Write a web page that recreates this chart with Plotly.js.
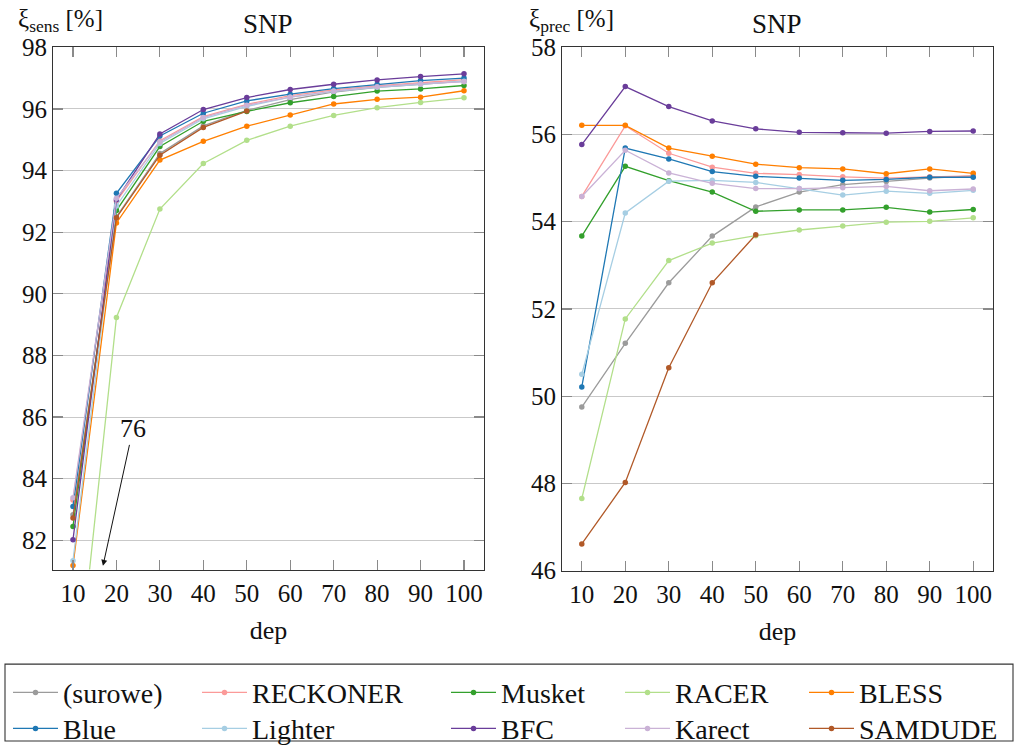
<!DOCTYPE html>
<html>
<head>
<meta charset="utf-8">
<script src="https://cdn.plot.ly/plotly-3.0.1.min.js"></script>
<style>
html,body{margin:0;padding:0;background:#fff;width:1016px;height:754px;overflow:hidden;}
#chart{width:1016px;height:754px;overflow:hidden;}
#chart svg text{font-family:'Liberation Serif', serif !important;}
</style>
</head>
<body>
<div id="chart"></div>
<script>
// ---- data ----
const deps = [10, 20, 30, 40, 50, 60, 70, 80, 90, 100];
const samdudeDeps = [10, 20, 30, 40, 50];

const names = ["(surowe)", "RECKONER", "Musket", "RACER", "BLESS", "Blue", "Lighter", "BFC", "Karect", "SAMDUDE"];
const colors = ["#9b9b9b", "#fb9a99", "#33a02c", "#b2df8a", "#ff7f00", "#1f78b4", "#a6cee3", "#6a3d9a", "#cab2d6", "#b15928"];

// sensitivity [%]
const sensRaw      = [82.83, 92.50, 94.55, 95.45, 95.95, 96.30, 96.55, 96.70, 96.80, 96.90];
const sensReckoner = [83.31, 93.00, 94.97, 95.75, 96.15, 96.43, 96.62, 96.75, 96.85, 96.95];
const sensMusket   = [82.45, 92.70, 94.78, 95.60, 95.92, 96.20, 96.40, 96.58, 96.65, 96.76];
const sensRacer    = [76.00, 89.23, 92.75, 94.23, 94.98, 95.44, 95.79, 96.04, 96.21, 96.36];
const sensBless    = [81.18, 92.30, 94.34, 94.95, 95.44, 95.80, 96.16, 96.31, 96.38, 96.59];
const sensBlue     = [83.10, 93.26, 95.12, 95.86, 96.26, 96.48, 96.66, 96.80, 96.92, 97.00];
const sensLighter  = [81.34, 92.85, 94.88, 95.68, 96.08, 96.38, 96.57, 96.70, 96.80, 96.90];
const sensBfc      = [82.02, 93.05, 95.19, 95.98, 96.37, 96.63, 96.80, 96.94, 97.05, 97.14];
const sensKarect   = [83.38, 93.10, 94.93, 95.72, 96.12, 96.38, 96.58, 96.72, 96.82, 96.88];
const sensSamdude  = [82.72, 92.47, 94.50, 95.40, 95.93];

// precision [%]
const precRaw      = [49.75, 51.21, 52.60, 53.67, 54.34, 54.68, 54.85, 54.92, 55.00, 55.05];
const precReckoner = [54.58, 56.20, 55.57, 55.25, 55.11, 55.08, 55.03, 55.00, 55.03, 55.05];
const precMusket   = [53.67, 55.27, 54.94, 54.68, 54.24, 54.27, 54.27, 54.33, 54.22, 54.28];
const precRacer    = [47.65, 51.77, 53.11, 53.51, 53.68, 53.81, 53.90, 53.99, 54.01, 54.09];
const precBless    = [56.21, 56.21, 55.69, 55.50, 55.32, 55.24, 55.21, 55.10, 55.21, 55.11];
const precBlue     = [50.21, 55.69, 55.44, 55.15, 55.04, 55.00, 54.95, 54.97, 55.02, 55.02];
const precLighter  = [50.50, 54.20, 54.93, 54.95, 54.90, 54.76, 54.61, 54.70, 54.65, 54.72];
const precBfc      = [55.77, 57.10, 56.64, 56.31, 56.13, 56.05, 56.04, 56.03, 56.07, 56.08];
const precKarect   = [54.58, 55.64, 55.12, 54.88, 54.76, 54.76, 54.78, 54.81, 54.71, 54.75];
const precSamdude  = [46.61, 48.02, 50.65, 52.60, 53.70];

const sensTicks = [82, 84, 86, 88, 90, 92, 94, 96, 98];
const precTicks = [46, 48, 50, 52, 54, 56, 58];

// ---- build ----
const sensSeries = [sensRaw, sensReckoner, sensMusket, sensRacer, sensBless, sensBlue, sensLighter, sensBfc, sensKarect, sensSamdude];
const precSeries = [precRaw, precReckoner, precMusket, precRacer, precBless, precBlue, precLighter, precBfc, precKarect, precSamdude];

const FONT = "Liberation Serif";
const W = 1016, H = 754;
const px = v => v / W, py = v => 1 - v / H;

// one legend per entry: 5 columns x 2 rows
const colLeft = [13, 202, 451, 625, 809];
const rowMid = [703, 739.5];
const legendId = i => (i === 0 ? "legend" : "legend" + (i + 1));

const traces = [];
const legends = {};
names.forEach((n, i) => {
  const xs = (i === 9) ? samdudeDeps : deps;
  const base = {
    type: "scatter", mode: "lines+markers", name: n,
    line: {color: colors[i], width: 1.3},
    marker: {color: colors[i], size: 5.5},
    legend: legendId(i)
  };
  traces.push(Object.assign({}, base, {x: xs, y: sensSeries[i], xaxis: "x", yaxis: "y", showlegend: true}));
  traces.push(Object.assign({}, base, {x: xs, y: precSeries[i], xaxis: "x2", yaxis: "y2", showlegend: false}));
  legends[legendId(i)] = {
    x: px(colLeft[i % 5] - 5), xanchor: "left",
    y: py(rowMid[Math.floor(i / 5)]), yanchor: "middle",
    bgcolor: "rgba(0,0,0,0)", borderwidth: 0,
    font: {family: FONT, size: 28, color: "#111"},
    itemwidth: 45, orientation: "v"
  };
});

const axisCommon = {
  showline: true, linecolor: "#333", linewidth: 1.1, mirror: "ticks",
  ticks: "inside", ticklen: 10, tickcolor: "#8a8a8a", tickwidth: 1.2,
  tickfont: {family: FONT, size: 25, color: "#111"},
  zeroline: false
};

const layout = Object.assign({
  width: W, height: H,
  margin: {l: 0, r: 0, t: 0, b: 0},
  paper_bgcolor: "#fff", plot_bgcolor: "#fff",
  font: {family: FONT, color: "#111"},
  xaxis: Object.assign({}, axisCommon, {
    domain: [px(53), px(484)], range: [5.4, 104.6], anchor: "y",
    tickvals: deps, showgrid: false, ticklabelstandoff: 1,
    title: {text: "dep", font: {family: FONT, size: 26, color: "#111"}, standoff: 15}
  }),
  yaxis: Object.assign({}, axisCommon, {
    domain: [py(578), py(48)], range: [81.05, 98], anchor: "x",
    tickvals: sensTicks, showgrid: true, gridcolor: "#c9c9c9", gridwidth: 1
  }),
  xaxis2: Object.assign({}, axisCommon, {
    domain: [px(562), px(993)], range: [5.45, 104.55], anchor: "y2",
    tickvals: deps, showgrid: false, ticklabelstandoff: 1,
    title: {text: "dep", font: {family: FONT, size: 26, color: "#111"}, standoff: 15}
  }),
  yaxis2: Object.assign({}, axisCommon, {
    domain: [py(579), py(48)], range: [46, 58], anchor: "x2",
    tickvals: precTicks, showgrid: true, gridcolor: "#c9c9c9", gridwidth: 1
  }),
  shapes: [{
    type: "rect", xref: "paper", yref: "paper",
    x0: px(5), x1: px(1013), y0: py(752), y1: py(674),
    line: {color: "#333", width: 1.1}, fillcolor: "rgba(0,0,0,0)"
  }],
  annotations: [
    {xref: "paper", yref: "paper", x: px(268), y: py(24), xanchor: "center", yanchor: "middle",
     text: "SNP", showarrow: false, font: {family: FONT, size: 27, color: "#111"}},
    {xref: "paper", yref: "paper", x: px(777), y: py(24), xanchor: "center", yanchor: "middle",
     text: "SNP", showarrow: false, font: {family: FONT, size: 27, color: "#111"}},
    {xref: "paper", yref: "paper", x: px(16), y: py(21), xanchor: "left", yanchor: "middle",
     text: "ξ<sub>sens</sub> [%]", showarrow: false, font: {family: FONT, size: 25, color: "#111"}},
    {xref: "paper", yref: "paper", x: px(527), y: py(21), xanchor: "left", yanchor: "middle",
     text: "ξ<sub>prec</sub> [%]", showarrow: false, font: {family: FONT, size: 25, color: "#111"}},
    {xref: "x", yref: "y", x: 16.9, y: 81.17, ax: 30, ay: -137, axref: "pixel", ayref: "pixel",
     text: "76", showarrow: true, arrowhead: 2, arrowsize: 1.2, arrowwidth: 1, arrowcolor: "#111",
     font: {family: FONT, size: 26, color: "#111"}}
  ]
}, legends);

Plotly.newPlot("chart", traces, layout, {staticPlot: true, displayModeBar: false});
</script>
</body>
</html>
